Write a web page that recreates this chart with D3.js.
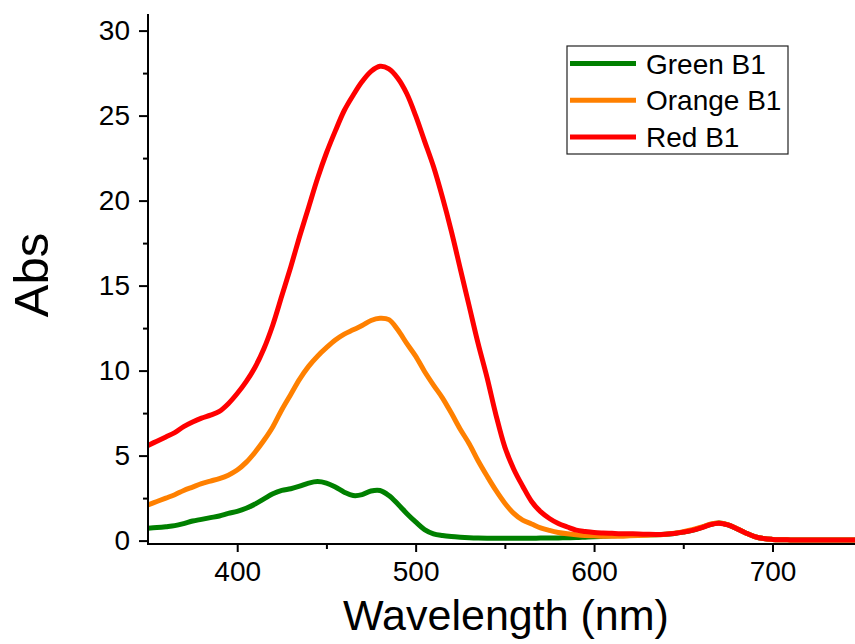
<!doctype html>
<html lang="en">
  <head>
    <meta charset="utf-8">
    <title>Abs spectra</title>
    <style>
      body { margin: 0; background: #fff; }
      svg { display: block; font-family: Arial, "Liberation Sans", sans-serif; }
      .axis path, .axis line { stroke: #000; stroke-width: 2px; fill: none; }
      .axis text { font-size: 28px; fill: #000; font-family: Arial, "Liberation Sans", sans-serif; }
      .series { fill: none; stroke-width: 5px; stroke-linejoin: round; stroke-linecap: round; }
    </style>
  </head>
  <body>
    <div id="chart"></div>
    <script src="https://cdn.jsdelivr.net/npm/d3@7"></script>
    <script>
      // wavelength grid, 5 nm steps 350..750
      var wavelength = d3.range(350, 751, 5);

      var green = [0.73, 0.77, 0.82, 0.88, 1.0, 1.15, 1.25, 1.35, 1.45, 1.6,
        1.72, 1.9, 2.15, 2.45, 2.75, 2.95, 3.05, 3.2, 3.38, 3.47,
        3.38, 3.15, 2.85, 2.65, 2.7, 2.92, 2.95, 2.65, 2.15, 1.6,
        1.1, 0.65, 0.4, 0.3, 0.24, 0.2, 0.17, 0.15, 0.14, 0.14,
        0.14, 0.14, 0.14, 0.14, 0.15, 0.15, 0.16, 0.17, 0.18, 0.2,
        0.22, 0.25, 0.28, 0.3, 0.32, 0.34, 0.35, 0.35, 0.37, 0.42,
        0.5, 0.6, 0.76, 0.94, 1.03, 0.93, 0.7, 0.45, 0.24, 0.12,
        0.07, 0.05, 0.04, 0.03, 0.03, 0.03, 0.03, 0.03, 0.03, 0.03, 0.03];

      var orange = [2.1, 2.3, 2.5, 2.7, 2.95, 3.15, 3.35, 3.5, 3.65, 3.85,
        4.15, 4.6, 5.2, 5.9, 6.7, 7.7, 8.6, 9.5, 10.25, 10.85,
        11.35, 11.8, 12.15, 12.4, 12.65, 12.95, 13.08, 13.0, 12.4, 11.6,
        10.85, 9.95, 9.15, 8.4, 7.5, 6.55, 5.7, 4.7, 3.8, 2.95,
        2.2, 1.6, 1.2, 0.98, 0.75, 0.6, 0.48, 0.4, 0.34, 0.3,
        0.28, 0.26, 0.25, 0.26, 0.28, 0.3, 0.32, 0.34, 0.38, 0.44,
        0.53, 0.64, 0.79, 0.96, 1.04, 0.94, 0.71, 0.45, 0.24, 0.12,
        0.07, 0.05, 0.04, 0.03, 0.03, 0.03, 0.03, 0.03, 0.03, 0.03, 0.03];

      var red = [5.6, 5.85, 6.1, 6.35, 6.7, 6.97, 7.2, 7.38, 7.6, 8.05,
        8.65, 9.35, 10.2, 11.3, 12.7, 14.4, 16.1, 17.9, 19.6, 21.3,
        22.8, 24.1, 25.3, 26.2, 27.0, 27.6, 27.9, 27.75, 27.2, 26.3,
        25.0, 23.5, 22.0, 20.2, 18.2, 16.0, 13.8, 11.6, 9.6, 7.4,
        5.5, 4.2, 3.2, 2.3, 1.7, 1.3, 1.0, 0.8, 0.62, 0.54,
        0.48, 0.45, 0.43, 0.41, 0.4, 0.39, 0.37, 0.36, 0.38, 0.42,
        0.5, 0.6, 0.75, 0.93, 1.02, 0.92, 0.7, 0.45, 0.24, 0.12,
        0.07, 0.05, 0.04, 0.03, 0.03, 0.03, 0.03, 0.03, 0.03, 0.03, 0.03];

      var seriesNames = ["Green B1", "Orange B1", "Red B1"];
      var seriesColors = ["#008000", "#ff8000", "#ff0000"];
      var xTicks = [400, 500, 600, 700];
      var xMinor = [450, 550, 650, 750];
      var yTicks = [0, 5, 10, 15, 20, 25, 30];
      var yMinor = [2.5, 7.5, 12.5, 17.5, 22.5, 27.5];

      var width = 855, height = 644;
      var plotLeft = 148, plotBottom = 544, plotTop = 14;

      var x = d3.scaleLinear().domain([350, 750]).range([plotLeft, 861.7]);
      var y = d3.scaleLinear().domain([-0.2, 31]).range([plotBottom, plotBottom - 31.2 * 17]);

      var svg = d3.select("#chart").append("svg")
          .attr("width", width)
          .attr("height", height);

      svg.append("defs").append("clipPath").attr("id", "plotclip")
        .append("rect").attr("x", plotLeft).attr("y", plotTop)
          .attr("width", width - plotLeft).attr("height", plotBottom - plotTop);

      var line = d3.line()
          .x(function(d) { return x(d[0]); })
          .y(function(d) { return y(d[1]); })
          .curve(d3.curveCatmullRom);

      var data = [green, orange, red];
      data.forEach(function(vals, i) {
        svg.append("path")
            .attr("class", "series")
            .attr("clip-path", "url(#plotclip)")
            .attr("stroke", seriesColors[i])
            .attr("d", line(wavelength.map(function(w, j) { return [w, vals[j]]; })));
      });

      // x axis
      var xAxis = svg.append("g").attr("class", "axis")
          .attr("transform", "translate(0," + plotBottom + ")");
      xAxis.append("line").attr("x1", plotLeft - 1).attr("x2", width).attr("y1", 0).attr("y2", 0);
      xAxis.append("g").call(d3.axisBottom(x).tickValues(xMinor).tickSize(5).tickFormat(""))
          .select(".domain").remove();
      var xg = xAxis.append("g").call(d3.axisBottom(x).tickValues(xTicks).tickSize(8).tickPadding(9));
      xg.select(".domain").remove();

      // y axis
      var yAxis = svg.append("g").attr("class", "axis")
          .attr("transform", "translate(" + plotLeft + ",0)");
      yAxis.append("line").attr("x1", 0).attr("x2", 0).attr("y1", plotTop).attr("y2", plotBottom + 1);
      yAxis.append("g").call(d3.axisLeft(y).tickValues(yMinor).tickSize(5).tickFormat(""))
          .select(".domain").remove();
      var yg = yAxis.append("g").call(d3.axisLeft(y).tickValues(yTicks).tickSize(9).tickPadding(9));
      yg.select(".domain").remove();

      // titles
      svg.append("text")
          .attr("x", 506).attr("y", 630)
          .attr("text-anchor", "middle")
          .style("font-size", "43px")
          .text("Wavelength (nm)");

      svg.append("text")
          .attr("transform", "translate(48,275) rotate(-90)")
          .attr("text-anchor", "middle")
          .style("font-size", "49px")
          .text("Abs");

      // legend
      var legend = svg.append("g").attr("transform", "translate(567,46)");
      legend.append("rect")
          .attr("x", 0).attr("y", 0).attr("width", 221).attr("height", 108)
          .attr("fill", "#fff").attr("stroke", "#222").attr("stroke-width", 1.2);
      seriesNames.forEach(function(name, i) {
        var ry = 17.5 + i * 36.7;
        legend.append("line")
            .attr("x1", 3).attr("x2", 69).attr("y1", ry).attr("y2", ry)
            .attr("stroke", seriesColors[i]).attr("stroke-width", 5);
        legend.append("text")
            .attr("x", 79).attr("y", ry + 10)
            .style("font-size", "28px")
            .text(name);
      });
    </script>
  </body>
</html>
